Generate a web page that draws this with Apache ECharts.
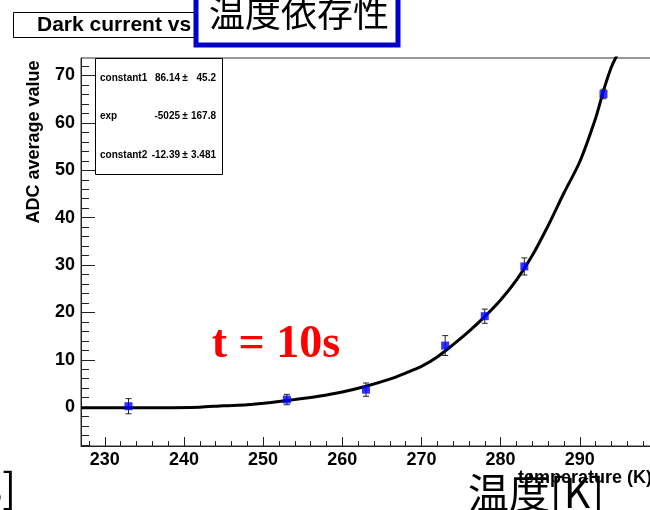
<!DOCTYPE html>
<html>
<head>
<meta charset="utf-8">
<script src="https://cdn.jsdelivr.net/npm/echarts@6/dist/echarts.min.js"></script>
<style>
  html, body { margin: 0; padding: 0; background: #fff; }
  #chart { width: 650px; height: 510px; }
</style>
</head>
<body>
<div id="chart"></div>
<script>
// Measured points: temperature (K), mean ADC value, error
const temperatures = [233, 253, 263, 273, 278, 283, 293];
const adcValues    = [0.2, 1.6, 3.7, 13.0, 19.2, 29.7, 66.1];
const adcErrors    = [1.6, 1.1, 1.4, 2.1, 1.5, 1.8, 1.0];

// Fitted curve, sampled along the temperature axis
const fitTemperatures = [227, 232, 237, 242, 245, 248, 251, 254, 257, 260, 263, 266, 268, 270, 272, 274, 276, 278, 280, 282, 284, 286, 288, 290, 292, 293, 294, 295];
const fitValues       = [-0.1, -0.1, -0.1, 0.0, 0.3, 0.5, 1.0, 1.6, 2.3, 3.2, 4.4, 5.9, 7.2, 8.6, 10.6, 13.2, 16.0, 19.1, 22.6, 26.8, 32.0, 38.3, 45.2, 51.8, 61.0, 66.8, 71.8, 75.2];

// Axis ticks
const xMajorTicks = [230, 240, 250, 260, 270, 280, 290];
const xMinorTicks = [228, 232, 234, 236, 238, 242, 244, 246, 248, 252, 254, 256, 258, 262, 264, 266, 268, 272, 274, 276, 278, 282, 284, 286, 288, 292, 294, 296, 298];
const yMajorTicks = [0, 10, 20, 30, 40, 50, 60, 70];
const yMinorTicks = [-8, -6, -4, -2, 2, 4, 6, 8, 12, 14, 16, 18, 22, 24, 26, 28, 32, 34, 36, 38, 42, 44, 46, 48, 52, 54, 56, 58, 62, 64, 66, 68, 72];

// Fit parameters: name, value, error
const fitParamNames  = ['constant1', 'exp', 'constant2'];
const fitParamValues = ['86.14', '-5025', '-12.39'];
const fitParamErrors = ['45.2', '167.8', '3.481'];

const X_MIN = 227, X_MAX = 299, Y_MIN = -8.2, Y_MAX = 73.7;
const SANS = '"Liberation Sans", Arial, Helvetica, sans-serif';
const SERIF = '"Liberation Serif", "Times New Roman", serif';
const CJK = '"Noto Sans CJK JP", sans-serif';

const chart = echarts.init(document.getElementById('chart'), null, { renderer: 'canvas' });

const points = temperatures.map((t, i) => [t, adcValues[i], adcErrors[i]]);
const fitLine = fitTemperatures.map((t, i) => [t, fitValues[i]]);

function valueAxis(kind, ticks, isMajor) {
  const isX = kind === 'x';
  return {
    type: 'value',
    min: isX ? X_MIN : Y_MIN,
    max: isX ? X_MAX : Y_MAX,
    position: isX ? 'bottom' : 'left',
    axisLine: { show: isMajor, onZero: false, lineStyle: { color: '#222', width: 1 } },
    axisTick: {
      show: true,
      inside: true,
      customValues: ticks,
      length: isX ? (isMajor ? 9 : 5) : (isMajor ? 14 : 8),
      lineStyle: { color: '#222', width: 1 }
    },
    axisLabel: isMajor ? {
      show: true,
      customValues: ticks,
      color: '#000',
      fontFamily: SANS,
      fontWeight: 'bold',
      fontSize: 18,
      margin: isX ? 5 : 6
    } : { show: false },
    splitLine: { show: false },
    minorTick: { show: false }
  };
}

const statsGraphics = [];
fitParamNames.forEach((name, i) => {
  const y = 78 + i * 38.5;
  const font = { fontFamily: SANS, fontWeight: 'bold', fontSize: 10, fill: '#000' };
  statsGraphics.push(
    { type: 'text', z: 20, style: Object.assign({ text: name, x: 100, y: y, align: 'left', verticalAlign: 'middle' }, font) },
    { type: 'text', z: 20, style: Object.assign({ text: fitParamValues[i], x: 180, y: y, align: 'right', verticalAlign: 'middle' }, font) },
    { type: 'text', z: 20, style: Object.assign({ text: '\u00b1', x: 185, y: y, align: 'center', verticalAlign: 'middle' }, font) },
    { type: 'text', z: 20, style: Object.assign({ text: fitParamErrors[i], x: 216, y: y, align: 'right', verticalAlign: 'middle' }, font) }
  );
});

const option = {
  backgroundColor: '#fff',
  animation: false,
  grid: {
    left: 81, top: 58, width: 570, height: 388,
    outerBoundsMode: 'none', containLabel: false,
    show: true, borderColor: '#333', borderWidth: 1, backgroundColor: 'transparent'
  },
  xAxis: [valueAxis('x', xMajorTicks, true), valueAxis('x', xMinorTicks, false)],
  yAxis: [valueAxis('y', yMajorTicks, true), valueAxis('y', yMinorTicks, false)],
  series: [
    {
      name: 'fit',
      type: 'line',
      data: fitLine,
      smooth: 0.3,
      showSymbol: false,
      clip: true,
      lineStyle: { color: '#000', width: 3 },
      z: 3
    },
    {
      name: 'errors',
      type: 'custom',
      data: points,
      clip: true,
      z: 4,
      renderItem: function (params, api) {
        const x = api.value(0), y = api.value(1), e = api.value(2);
        const top = api.coord([x, y + e]);
        const bot = api.coord([x, y - e]);
        const cap = 3;
        const style = { stroke: '#222', lineWidth: 1 };
        return {
          type: 'group',
          children: [
            { type: 'line', shape: { x1: top[0], y1: top[1], x2: bot[0], y2: bot[1] }, style: style },
            { type: 'line', shape: { x1: top[0] - cap, y1: top[1], x2: top[0] + cap, y2: top[1] }, style: style },
            { type: 'line', shape: { x1: bot[0] - cap, y1: bot[1], x2: bot[0] + cap, y2: bot[1] }, style: style }
          ]
        };
      }
    },
    {
      name: 'data',
      type: 'scatter',
      data: points.map(p => [p[0], p[1]]),
      symbol: 'rect',
      symbolSize: [8, 8],
      itemStyle: { color: '#0000ff' },
      z: 5
    }
  ],
  graphic: [
    // Title box
    { type: 'rect', z: 10, shape: { x: 13.5, y: 12.5, width: 260, height: 25 },
      style: { fill: '#fff', stroke: '#000', lineWidth: 1 } },
    { type: 'text', z: 11, style: { text: 'Dark current vs temperature', x: 37, y: 25.5,
      align: 'left', verticalAlign: 'middle', fontFamily: SANS, fontWeight: 'bold', fontSize: 21, fill: '#000' } },
    // Headline box
    { type: 'rect', z: 12, shape: { x: 196, y: -10, width: 202, height: 55 },
      style: { fill: '#fff', stroke: '#0000cc', lineWidth: 5 } },
    { type: 'text', z: 13, style: { text: '温度依存性', x: 299, y: 13,
      align: 'center', verticalAlign: 'middle', fontFamily: CJK, fontSize: 36, fill: '#000' } },
    // Fit statistics box
    { type: 'rect', z: 19, shape: { x: 95.5, y: 58.5, width: 127, height: 116 },
      style: { fill: '#fff', stroke: '#000', lineWidth: 1 } },
    ...statsGraphics,
    // Y axis title
    { type: 'text', z: 15, x: 34, y: 142, rotation: Math.PI / 2,
      style: { text: 'ADC average value', x: 0, y: 0, align: 'center', verticalAlign: 'middle',
        fontFamily: SANS, fontWeight: 'bold', fontSize: 18, fill: '#000' } },
    // Exposure label
    { type: 'text', z: 15, style: { text: 't = 10s', x: 276, y: 345, align: 'center', verticalAlign: 'middle',
      fontFamily: SERIF, fontWeight: 'bold', fontSize: 46, fill: '#ff0000' } },
    // X axis labels
    { type: 'text', z: 15, style: { text: '温度[K]', x: 468, y: 492, align: 'left', verticalAlign: 'middle',
      fontFamily: CJK, fontSize: 41, fill: '#000' } },
    { type: 'text', z: 16, style: { text: 'temperature (K)', x: 652, y: 478, align: 'right', verticalAlign: 'middle',
      fontFamily: SANS, fontWeight: 'bold', fontSize: 18, fill: '#000' } },
    { type: 'text', z: 15, style: { text: '[s]', x: 16, y: 487, align: 'right', verticalAlign: 'middle',
      fontFamily: CJK, fontSize: 41, fill: '#000' } }
  ]
};

chart.setOption(option);
</script>
</body>
</html>
